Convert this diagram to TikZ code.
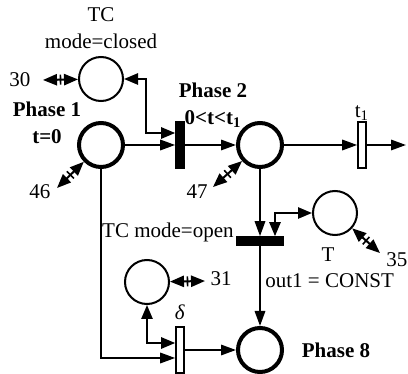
\documentclass[tikz,border=0pt]{standalone}
\usepackage{fontspec}
\setmainfont{Liberation Serif}
\usetikzlibrary{
  arrows.meta,
  positioning,
  calc,
  decorations.markings
}
\tikzset{
  %% places (circles)
  place/.style={
    circle, draw, line width=1pt,
    minimum size=22pt, inner sep=0pt
  },
  phase/.style={place, line width=2pt},
  %% transitions (bars)
  trbar/.style={
    draw, line width=0.8pt, fill=#1,
    minimum width=4pt, minimum height=23pt,
    inner sep=0pt
  },
  trbar/.default=black,
  hbar/.style={trbar, minimum width=23pt, minimum height=4pt},
  %% labels
  lbl/.style={font=\fontsize{10.5}{13.5}\selectfont, inner sep=1pt, align=center},
  blbl/.style={lbl, font=\fontsize{10.5}{13.5}\selectfont\bfseries},
  %% arrows
  arr/.style ={-{Triangle[length=7.5pt,width=5.2pt]}, line width=1pt},
  darr/.style={{Triangle[length=7pt,width=5.6pt]}-{Triangle[length=7pt,width=5.6pt]},
               line width=1pt},
  %% small tick in the middle of a double arrow
  tick/.style={postaction={decorate, decoration={markings,
      mark=at position 0.5 with {\draw[-, line width=0.8pt] (0,-2.5pt) -- (0,2.5pt);}}}}
}

\begin{document}
\begin{tikzpicture}[x=0.5pt, y=-0.5pt]
\useasboundingbox (0,0) rectangle (408,374);

% ════════════════════════════════════════════════════════════
% PLACES
% ════════════════════════════════════════════════════════════
\node[place] (tcc) at (101,79)  {};
\node[phase] (p1)  at (101,145) {};
\node[phase] (p2)  at (260,145) {};
\node[place] (tp)  at (335,213) {};
\node[place] (c31) at (147,282) {};
\node[phase] (p8)  at (260,350) {};

% ════════════════════════════════════════════════════════════
% TRANSITIONS
% ════════════════════════════════════════════════════════════
\node[trbar]       (tr2)   at (180,145) {};
\node[trbar=white] (t1)    at (362,145) {};
\node[hbar]        (tr8)   at (260,241) {};
\node[trbar=white] (delta) at (180,350) {};

\coordinate (tout) at (406,145);

% ════════════════════════════════════════════════════════════
% LABELS
% ════════════════════════════════════════════════════════════
\node[lbl]  (tcclbl) at (101,28)  {TC\\mode=closed};
\node[blbl] (p1lbl)  at (47,123)  {Phase 1\\t=0};
\node[blbl] (p2lbl)  at (213,105) {Phase 2\\0<t<t\textsubscript{1}};
\node[lbl]  (t1lbl)  at (362,113) {t\textsubscript{1}};
\node[lbl]  (tplbl)  at (328,255) {T};
\node[lbl]  (dlbl)   at (180,312) {\textit{δ}};
\node[blbl] (p8lbl)  at (336,350) {Phase 8};
\node[lbl, anchor=base east] (openlbl) at (236,238) {TC mode=open};
\node[lbl, anchor=west]      (outlbl)  at (263,281) {out1 = CONST};

% numbers at the double arrows
\node[lbl] (n30) at (20,80)   {30};
\node[lbl] (n46) at (40,192)  {46};
\node[lbl] (n47) at (197,192) {47};
\node[lbl] (n31) at (221,279) {31};
\node[lbl] (n35) at (397,260) {35};

\coordinate (e30) at (43,80);
\coordinate (e46) at (57,188);
\coordinate (e47) at (213,187);
\coordinate (e31) at (205,281);
\coordinate (e35) at (380,253);

% ════════════════════════════════════════════════════════════
% ARCS
% ════════════════════════════════════════════════════════════
\draw[arr] (p1) -- (p1 -| tr2.west);
\draw[darr] (tcc.east) -- ++(22,0) |- ($(tr2.west)+(0,-12)$);
\draw[arr] (tr2) -- (p2);
\draw[arr] (p2) -- (t1);
\draw[arr] (t1) -- (tout);

\draw[arr] (p2) -- (tr8);
\draw[darr] (tp.west) -| ($(tr8.north)+(15,0)$);
\draw[arr] (tr8) -- (p8);

\draw[arr] (p1) |- ($(delta.west)+(0,8)$);
\draw[darr] (c31) |- ($(delta.west)+(0,-7)$);
\draw[arr] (delta) -- (p8);

% double arrows
\draw[darr, tick] (e30) -- (tcc);
\draw[darr, tick] (e46) -- (p1);
\draw[darr, tick] (e47) -- (p2);
\draw[darr, tick] (c31) -- (e31);
\draw[darr, tick] (tp)  -- (e35);

\end{tikzpicture}
\end{document}
